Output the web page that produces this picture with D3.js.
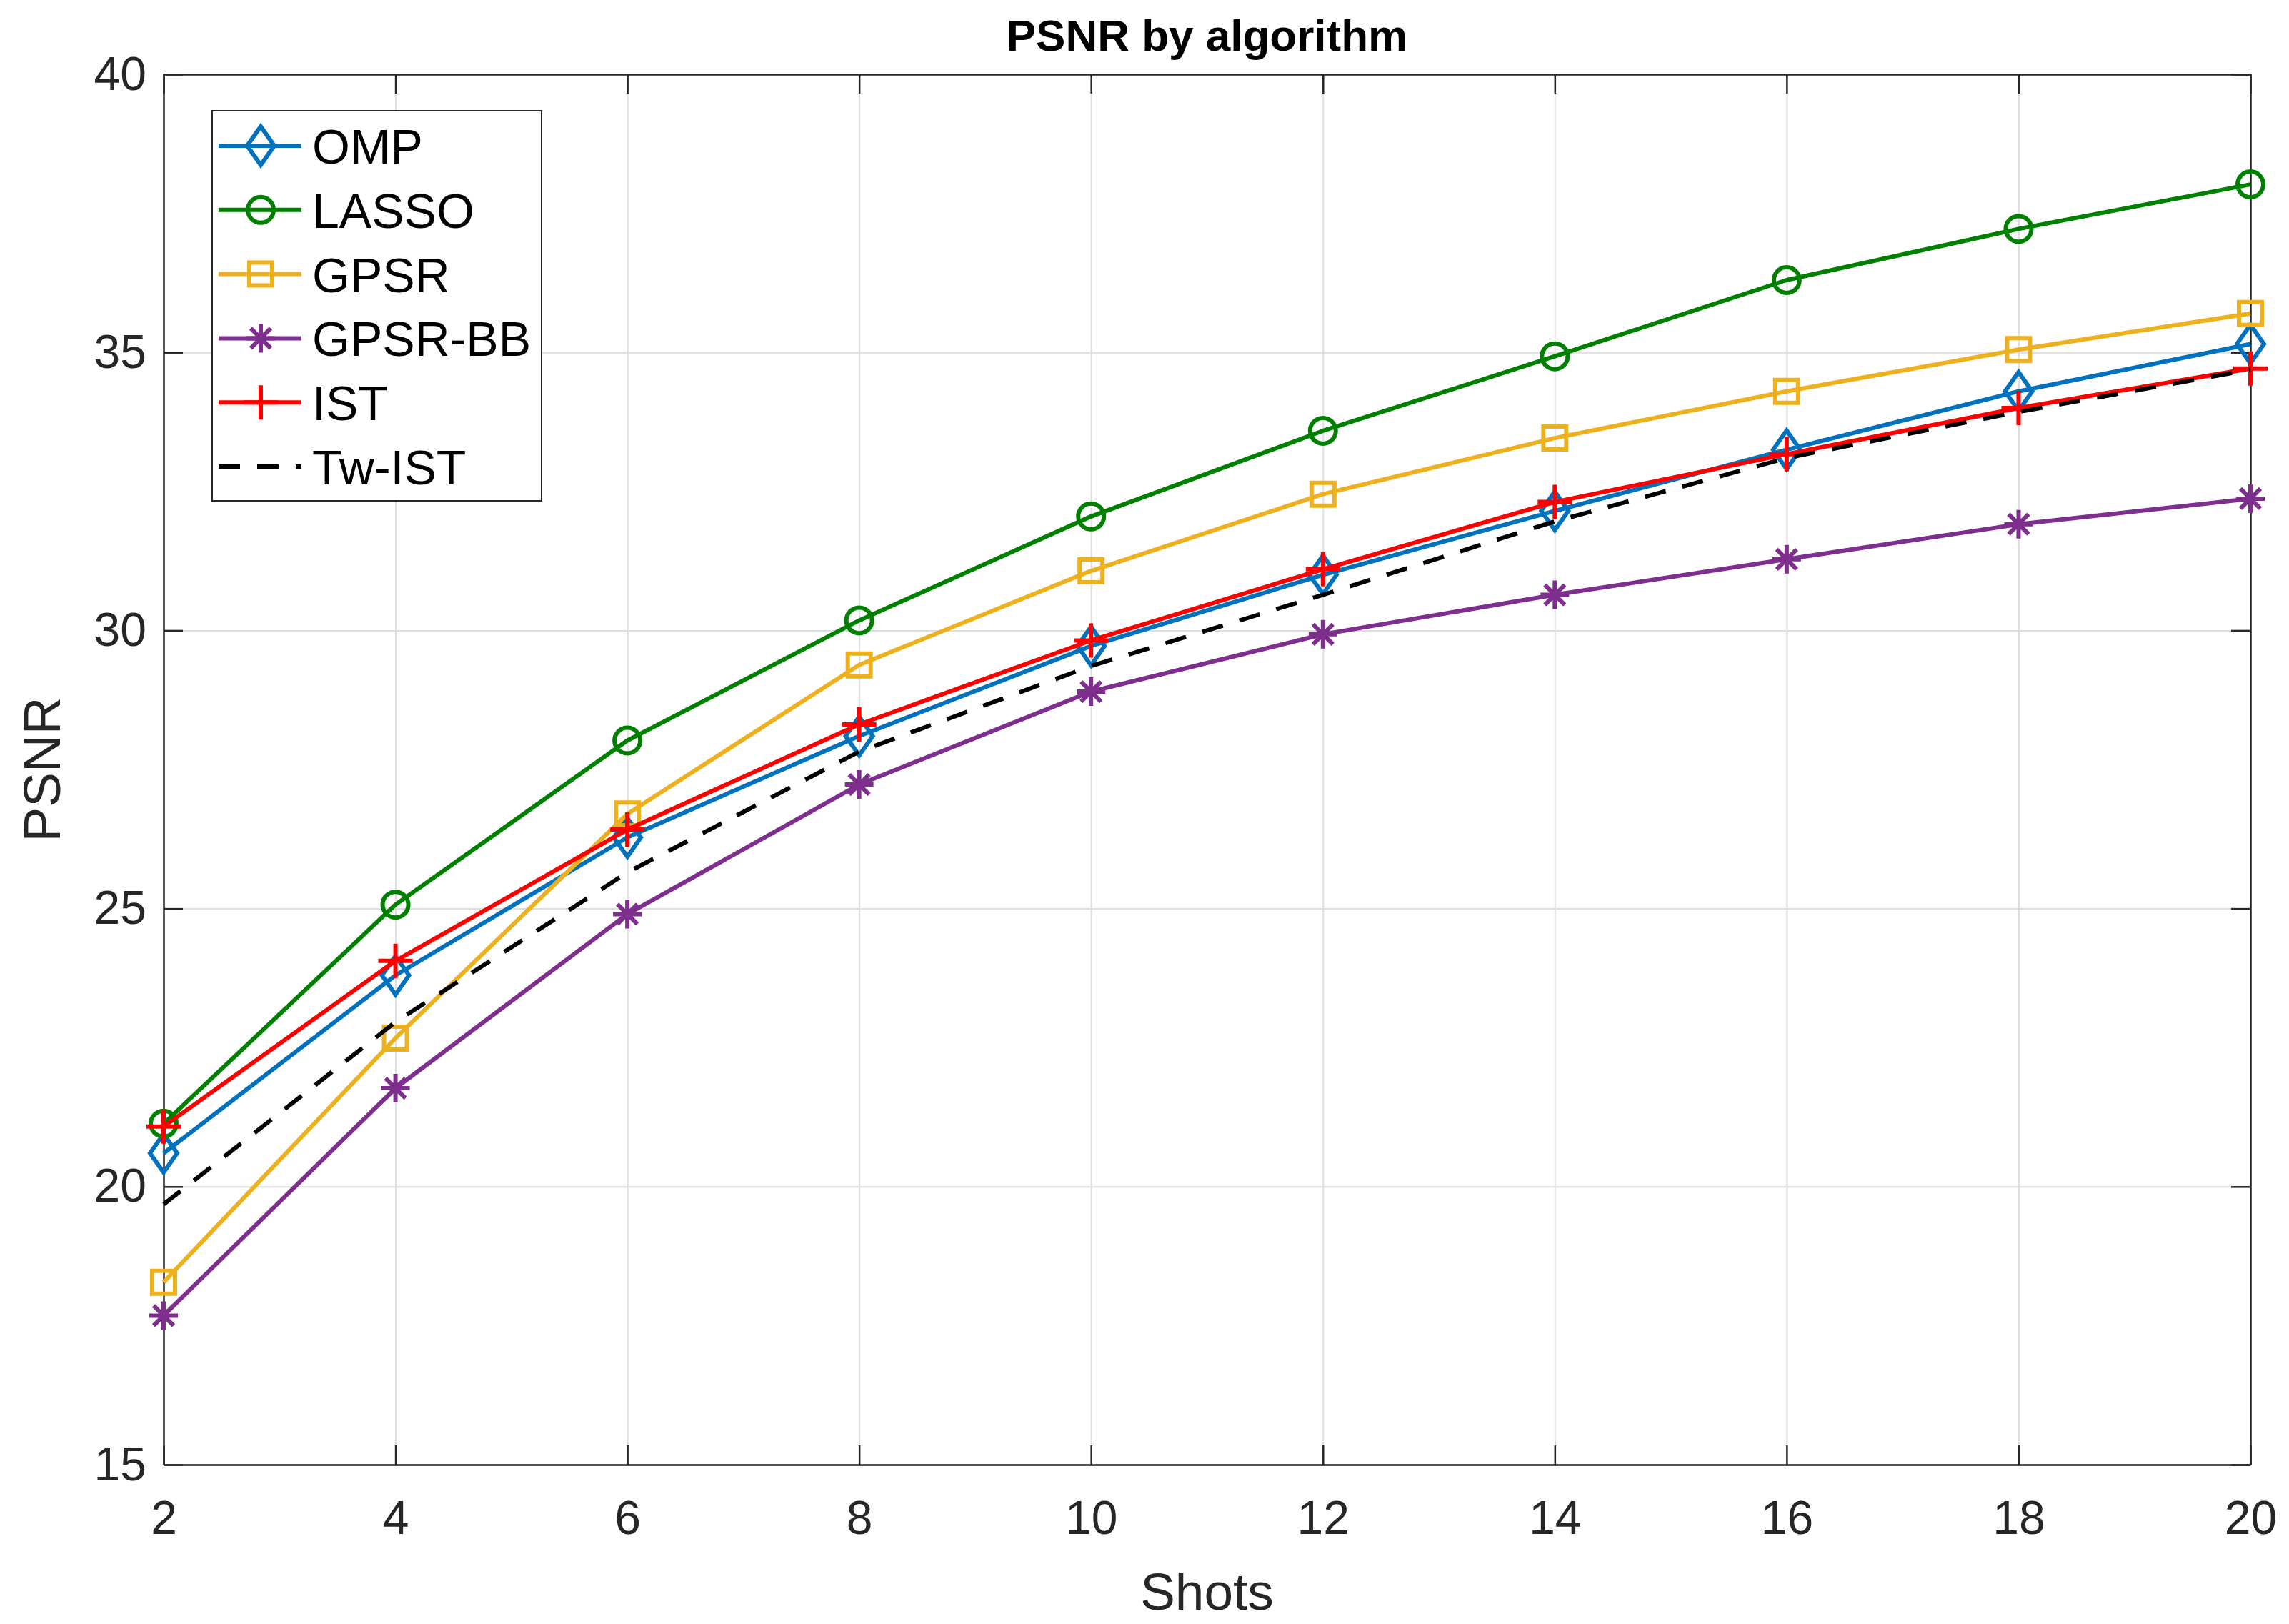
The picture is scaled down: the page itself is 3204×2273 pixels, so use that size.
<!DOCTYPE html>
<html>
<head>
<meta charset="utf-8">
<script src="https://cdn.jsdelivr.net/npm/d3@7"></script>
<style>
  body { margin: 0; background: #fff; }
  svg { display: block; font-family: "Liberation Sans", Arial, Helvetica, sans-serif; }
</style>
</head>
<body>
<svg id="chart"></svg>
<script>
// data
const shots = [2, 4, 6, 8, 10, 12, 14, 16, 18, 20];
const xTicks = [2, 4, 6, 8, 10, 12, 14, 16, 18, 20];
const yTicks = [15, 20, 25, 30, 35, 40];

const ompValues    = [20.60, 23.80, 26.28, 28.10, 29.72, 31.00, 32.15, 33.25, 34.30, 35.15];
const lassoValues  = [21.13, 25.07, 28.02, 30.18, 32.05, 33.59, 34.93, 36.30, 37.22, 38.02];
const gpsrValues   = [18.28, 22.67, 26.70, 29.38, 31.07, 32.45, 33.46, 34.30, 35.05, 35.70];
const gpsrBBValues = [17.68, 21.77, 24.90, 27.23, 28.90, 29.93, 30.64, 31.28, 31.91, 32.37];
const istValues    = [21.08, 24.06, 26.42, 28.31, 29.82, 31.10, 32.31, 33.17, 34.00, 34.71];
const twIstValues  = [19.68, 22.96, 25.65, 27.82, 29.36, 30.64, 31.96, 33.10, 33.93, 34.69];

const series = [
  { name: "OMP",     values: ompValues,    color: "#0072BD", marker: "diamond" },
  { name: "LASSO",   values: lassoValues,  color: "#008000", marker: "circle" },
  { name: "GPSR",    values: gpsrValues,   color: "#EDB120", marker: "square" },
  { name: "GPSR-BB", values: gpsrBBValues, color: "#7E2F8E", marker: "asterisk" },
  { name: "IST",     values: istValues,    color: "#FF0000", marker: "plus" },
  { name: "Tw-IST",  values: twIstValues,  color: "#000000", marker: "none", dash: "30,24" }
];

const width = 3204;
const height = 2273;
const margin = { top: 104, right: 54, bottom: 223, left: 229 };
const plotW = width - margin.left - margin.right;
const plotH = height - margin.top - margin.bottom;
const axisColor = "#262626";
const lineWidth = 6;

const svg = d3.select("#chart").attr("width", width).attr("height", height);
const g = svg.append("g").attr("transform", `translate(${margin.left},${margin.top})`);

const x = d3.scaleLinear().domain([2, 20]).range([0, plotW]);
const y = d3.scaleLinear().domain([15, 40]).range([plotH, 0]);

// grid lines
g.append("g")
  .attr("transform", `translate(0,${plotH})`)
  .call(d3.axisBottom(x).tickValues(xTicks).tickSize(-plotH).tickFormat(""))
  .call(s => s.select(".domain").remove())
  .call(s => s.selectAll("line").attr("stroke", "#dedede").attr("stroke-width", 2));
g.append("g")
  .call(d3.axisLeft(y).tickValues(yTicks).tickSize(-plotW).tickFormat(""))
  .call(s => s.select(".domain").remove())
  .call(s => s.selectAll("line").attr("stroke", "#dedede").attr("stroke-width", 2));

// axes box with inward ticks
function styleAxis(s) {
  s.select(".domain").attr("stroke", axisColor).attr("stroke-width", 2.5);
  s.selectAll(".tick line").attr("stroke", axisColor).attr("stroke-width", 2.5);
  s.selectAll(".tick text").attr("fill", axisColor).attr("font-size", 66);
}
g.append("g")
  .attr("transform", `translate(0,${plotH})`)
  .call(d3.axisBottom(x).tickValues(xTicks).tickSizeInner(-27).tickSizeOuter(0).tickPadding(50))
  .call(styleAxis);
g.append("g")
  .call(d3.axisTop(x).tickValues(xTicks).tickSizeInner(-27).tickSizeOuter(0).tickFormat(""))
  .call(styleAxis);
g.append("g")
  .call(d3.axisLeft(y).tickValues(yTicks).tickSizeInner(-27).tickSizeOuter(0).tickPadding(24))
  .call(styleAxis);
g.append("g")
  .attr("transform", `translate(${plotW},0)`)
  .call(d3.axisRight(y).tickValues(yTicks).tickSizeInner(-27).tickSizeOuter(0).tickFormat(""))
  .call(styleAxis);

// marker shapes, stroked like matlab markers
function markerPath(type) {
  const p = d3.path();
  if (type === "circle") {
    p.moveTo(18, 0);
    p.arc(0, 0, 18, 0, 2 * Math.PI);
  } else if (type === "square") {
    p.rect(-16, -16, 32, 32);
  } else if (type === "diamond") {
    p.moveTo(0, -27); p.lineTo(19, 0); p.lineTo(0, 27); p.lineTo(-19, 0); p.closePath();
  } else if (type === "plus") {
    p.moveTo(-24, 0); p.lineTo(24, 0);
    p.moveTo(0, -24); p.lineTo(0, 24);
  } else if (type === "asterisk") {
    const d = 14;
    p.moveTo(-20, 0); p.lineTo(20, 0);
    p.moveTo(0, -20); p.lineTo(0, 20);
    p.moveTo(-d, -d); p.lineTo(d, d);
    p.moveTo(-d, d); p.lineTo(d, -d);
  }
  return p.toString();
}

const line = d3.line()
  .x((d, i) => x(shots[i]))
  .y(d => y(d));

// draw series
series.forEach(s => {
  const grp = g.append("g");
  grp.append("path")
    .datum(s.values)
    .attr("d", line)
    .attr("fill", "none")
    .attr("stroke", s.color)
    .attr("stroke-width", lineWidth)
    .attr("stroke-linejoin", "round")
    .attr("stroke-dasharray", s.dash || null);

  if (s.marker !== "none") {
    grp.selectAll(".marker")
      .data(s.values)
      .enter().append("path")
      .attr("class", "marker")
      .attr("transform", (d, i) => `translate(${x(shots[i])},${y(d)})`)
      .attr("d", markerPath(s.marker))
      .attr("fill", "none")
      .attr("stroke", s.color)
      .attr("stroke-width", lineWidth);
  }
});

// legend
const legend = svg.append("g").attr("transform", "translate(297,155)");
legend.append("rect")
  .attr("width", 461).attr("height", 546)
  .attr("fill", "#fff")
  .attr("stroke", axisColor).attr("stroke-width", 2);

series.forEach((s, i) => {
  const cy = 49 + i * 89.8;
  legend.append("line")
    .attr("x1", 9).attr("x2", 125)
    .attr("y1", cy).attr("y2", cy)
    .attr("stroke", s.color).attr("stroke-width", lineWidth)
    .attr("stroke-dasharray", s.dash || null);
  if (s.marker !== "none") {
    legend.append("path")
      .attr("transform", `translate(68,${cy})`)
      .attr("d", markerPath(s.marker))
      .attr("fill", "none")
      .attr("stroke", s.color).attr("stroke-width", lineWidth);
  }
  legend.append("text")
    .attr("x", 140).attr("y", cy + 25)
    .attr("font-size", 68)
    .attr("fill", "#000")
    .text(s.name);
});

// title and axis labels
svg.append("text")
  .attr("x", margin.left + plotW / 2).attr("y", 71)
  .attr("text-anchor", "middle")
  .attr("font-size", 62).attr("font-weight", "bold")
  .attr("fill", "#000")
  .text("PSNR by algorithm");

svg.append("text")
  .attr("x", margin.left + plotW / 2).attr("y", 2253)
  .attr("text-anchor", "middle")
  .attr("font-size", 73)
  .attr("fill", axisColor)
  .text("Shots");

svg.append("text")
  .attr("transform", `translate(84,${margin.top + plotH / 2}) rotate(-90)`)
  .attr("text-anchor", "middle")
  .attr("font-size", 73)
  .attr("fill", axisColor)
  .text("PSNR");
</script>
</body>
</html>
